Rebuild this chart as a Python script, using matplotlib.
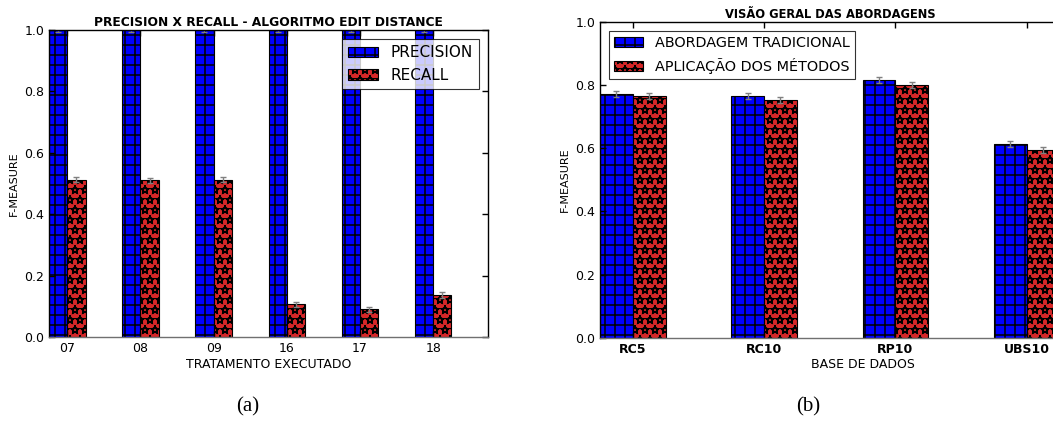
import matplotlib
matplotlib.use("Agg")
import matplotlib.pyplot as plt
import matplotlib.hatch as mhatch
import numpy as np

# hollow star hatch like the original rendering
mhatch.Stars.filled = False
mhatch.Stars.size = 0.38

# Data - left chart
treatments = ["07", "08", "09", "16", "17", "18"]
precision = [1.0, 1.0, 1.0, 1.0, 1.0, 1.0]
precision_err = [0.006, 0.006, 0.006, 0.006, 0.006, 0.006]
recall = [0.512, 0.511, 0.512, 0.106, 0.090, 0.136]
recall_err = [0.008, 0.008, 0.008, 0.009, 0.009, 0.009]

# Data - right chart
bases = ["RC5", "RC10", "RP10", "UBS10"]
tradicional = [0.772, 0.765, 0.816, 0.613]
tradicional_err = [0.010, 0.010, 0.010, 0.010]
metodos = [0.766, 0.753, 0.800, 0.595]
metodos_err = [0.009, 0.010, 0.010, 0.009]

BLUE = "#0000ff"
RED = "#d62728"

DPI = 120
S = 100.0 / DPI  # keep pixel sizes as designed for 100 dpi

plt.rcParams["hatch.linewidth"] = 1.1 * S
plt.rcParams["font.family"] = ["DejaVu Sans"]
plt.rcParams["xtick.direction"] = "in"
plt.rcParams["ytick.direction"] = "in"
plt.rcParams["axes.linewidth"] = 1.0 * S
plt.rcParams["xtick.major.width"] = 1.0 * S
plt.rcParams["ytick.major.width"] = 1.0 * S

fig = plt.figure(figsize=(1053 / DPI, 421 / DPI), dpi=DPI)

w = 0.25
ax1 = fig.add_axes([49/1053, 1-337/421, 439/1053, 307/421])
ind = np.arange(len(treatments))
ax1.bar(ind, precision, w, align="edge", color=BLUE, edgecolor="black",
        linewidth=0.8*S, hatch="++", label="PRECISION")
ax1.errorbar(ind + w/2, precision, yerr=precision_err, fmt="none",
             ecolor="gray", capsize=2*S, elinewidth=1*S, capthick=1*S)
ax1.bar(ind + w, recall, w, align="edge", color=RED, edgecolor="black",
        linewidth=0.8*S, hatch="**", label="RECALL")
ax1.errorbar(ind + 1.5*w, recall, yerr=recall_err, fmt="none",
             ecolor="gray", capsize=2*S, elinewidth=1*S, capthick=1*S)
ax1.set_xlim(0, 6)
ax1.set_ylim(0, 1.0)
ax1.set_xticks(ind + w)
ax1.set_xticklabels(treatments, fontsize=9*S)
ax1.set_yticks([0, 0.2, 0.4, 0.6, 0.8, 1.0])
ax1.set_yticklabels(["0.0", "0.2", "0.4", "0.6", "0.8", "1.0"], fontsize=9*S)
ax1.tick_params(top=True, right=True, length=4*S, pad=3.5*S)
ax1.spines["bottom"].set_color("#707070")
ax1.set_xlabel("TRATAMENTO EXECUTADO", fontsize=9*S, labelpad=2*S)
ax1.set_ylabel("F-MEASURE", fontsize=8*S, labelpad=4*S)
ax1.set_title("PRECISION X RECALL - ALGORITMO EDIT DISTANCE", fontsize=8.8*S,
              fontweight="bold", pad=3*S)
leg1 = ax1.legend(loc="upper right", fontsize=11*S, fancybox=False,
                  edgecolor="black", handlelength=2, borderaxespad=0.6)
leg1.get_frame().set_linewidth(0.8*S)

ax2 = fig.add_axes([600/1053, 1-337.7/421, 525/1053, 315.7/421])
ind2 = np.arange(len(bases))
ax2.bar(ind2, tradicional, w, align="edge", color=BLUE, edgecolor="black",
        linewidth=0.8*S, hatch="++", label="ABORDAGEM TRADICIONAL")
ax2.errorbar(ind2 + w/2, tradicional, yerr=tradicional_err, fmt="none",
             ecolor="gray", capsize=2*S, elinewidth=1*S, capthick=1*S)
ax2.bar(ind2 + w, metodos, w, align="edge", color=RED, edgecolor="black",
        linewidth=0.8*S, hatch="**", label="APLICAÇÃO DOS MÉTODOS")
ax2.errorbar(ind2 + 1.5*w, metodos, yerr=metodos_err, fmt="none",
             ecolor="gray", capsize=2*S, elinewidth=1*S, capthick=1*S)
ax2.set_xlim(0, 4)
ax2.set_ylim(0, 1.0)
ax2.set_xticks(ind2 + w)
ax2.set_xticklabels(bases, fontsize=9*S, fontweight="bold")
ax2.set_yticks([0, 0.2, 0.4, 0.6, 0.8, 1.0])
ax2.set_yticklabels(["0.0", "0.2", "0.4", "0.6", "0.8", "1.0"], fontsize=9*S)
ax2.tick_params(top=True, right=True, length=4*S, pad=3.5*S)
ax2.spines["bottom"].set_color("#707070")
ax2.set_xlabel("BASE DE DADOS", fontsize=9*S, labelpad=2*S)
ax2.set_ylabel("F-MEASURE", fontsize=8*S, labelpad=4*S)
ax2.set_title("VISÃO GERAL DAS ABORDAGENS", fontsize=8.3*S, fontweight="bold",
              pad=3*S, x=(830-600)/525)
leg2 = ax2.legend(loc="upper left", fontsize=10.4*S, fancybox=False,
                  edgecolor="black", handlelength=2, borderaxespad=0.6)
leg2.get_frame().set_linewidth(0.8*S)

fig.text(248/1053, 1-407/421, "(a)", fontsize=15*S, family="Liberation Serif",
         ha="center", va="center")
fig.text(808/1053, 1-407/421, "(b)", fontsize=15*S, family="Liberation Serif",
         ha="center", va="center")

fig.savefig("out.png", dpi=DPI)
